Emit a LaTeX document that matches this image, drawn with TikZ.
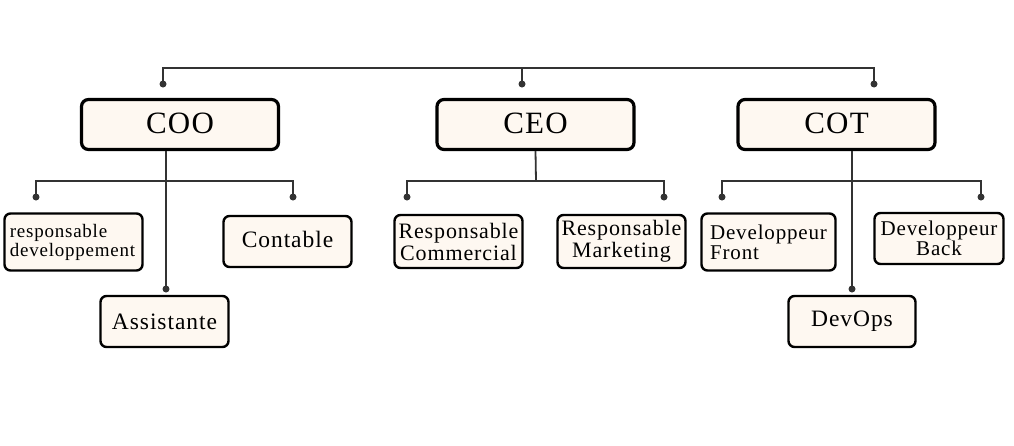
\documentclass[tikz,border=0pt]{standalone}
\usepackage{fontspec}
\setmainfont[LetterSpace=4]{Liberation Serif}
\definecolor{boxfill}{HTML}{FEF8F1}
\definecolor{linecol}{HTML}{333333}
\tikzset{
  topbox/.style={draw=black, fill=boxfill, line width=3.2pt, rounded corners=7pt, minimum width=197pt, minimum height=50pt, font=\fontsize{31}{33}\selectfont, inner sep=0pt},
  subbox/.style={draw=black, fill=boxfill, line width=2.4pt, rounded corners=6pt, inner sep=0pt, align=center, font=\fontsize{22}{22}\selectfont},
  onebox/.style={subbox, font=\fontsize{23.5}{24}\selectfont},
  conn/.style={draw=linecol, line width=1.8pt},
  pin/.style={circle, fill=linecol, inner sep=0pt, minimum size=7pt},
}
\begin{document}
\begin{tikzpicture}[x=1pt,y=-1pt]
\useasboundingbox (0,0) rectangle (1014,445);
% top boxes
\node[topbox] (coo) at (180,124.5) {\raisebox{3pt}{COO}};
\node[topbox] (ceo) at (535.5,124.5) {\raisebox{3pt}{CEO}};
\node[topbox] (cot) at (836.5,124.5) {\raisebox{3pt}{COT}};
% children
\node[subbox, minimum width=138pt, minimum height=57pt, align=left, font=\fontsize{19}{19}\selectfont] (rd) at (73.5,242) {\hspace*{-2pt}responsable\\\hspace*{-2pt}developpement};
\node[onebox, minimum width=128pt, minimum height=51pt] (cont) at (287.5,241.5) {\raisebox{5pt}{Contable}};
\node[onebox, minimum width=128pt, minimum height=51pt] (assi) at (164.5,321.5) {Assistante};
\node[subbox, minimum width=128pt, minimum height=53pt] (rc) at (458.5,241.5) {Responsable\\Commercial};
\node[subbox, minimum width=128pt, minimum height=53pt] (rm) at (621.5,241.5) {Responsable\\Marketing};
\node[subbox, minimum width=134pt, minimum height=57pt, align=left, font=\fontsize{21}{20}\selectfont] (df) at (768.5,242) {Developpeur\\Front};
\node[subbox, minimum width=129pt, minimum height=51pt, font=\fontsize{21}{20}\selectfont] (db) at (939,238.5) {Developpeur\\Back};
\node[onebox, minimum width=127pt, minimum height=51pt] (dops) at (852,321.5) {DevOps};
% top connector
\coordinate (tl) at (163,68);
\coordinate (tr) at (874,68);
\node[pin] (pcoo) at (163,84) {};
\node[pin] (pceo) at (522,84) {};
\node[pin] (pcot) at (874,84) {};
\draw[conn] (pcoo.center) -- (tl) -- (tr) -- (pcot.center);
\draw[conn] (pceo.center) -- (522,68);
% COO children
\node[pin] (prd) at (36,197) {};
\node[pin] (pcont) at (293,197) {};
\node[pin] (passi) at (166,289) {};
\draw[conn] (coo.south -| passi) -- (passi.center);
\draw[conn] (prd.center) -- (36,181) -- (293,181) -- (pcont.center);
% CEO children
\node[pin] (prc) at (407,197) {};
\node[pin] (prm) at (664,197) {};
\draw[conn] (ceo.south) -- (536,181);
\draw[conn] (prc.center) -- (407,181) -- (664,181) -- (prm.center);
% COT children
\node[pin] (pdf) at (722,197) {};
\node[pin] (pdb) at (981,197) {};
\node[pin] (pdops) at (852,289) {};
\draw[conn] (cot.south -| pdops) -- (pdops.center);
\draw[conn] (pdf.center) -- (722,181) -- (981,181) -- (pdb.center);
\end{tikzpicture}
\end{document}
